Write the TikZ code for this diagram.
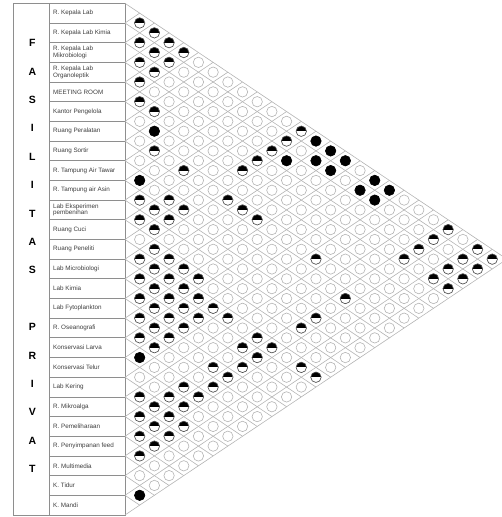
\documentclass[tikz,border=0pt]{standalone}
\usepackage{fontspec}
\setmainfont{Liberation Sans}
\usepackage{tikz}
\definecolor{tablegray}{HTML}{8E8E8E}
\definecolor{latticegray}{HTML}{B4B4B4}
\definecolor{labelgray}{HTML}{3C3C3C}

\begin{document}
\begin{tikzpicture}[
  x=1pt, y=-1pt,
  tableline/.style={tablegray,line width=0.8pt},
  lattice/.style={latticegray,line width=0.6pt},
  roomlabel/.style={anchor=west,inner sep=0pt,align=left,text=labelgray,
    font=\fontsize{6.3}{6.8}\selectfont},
  grouplabel/.style={inner sep=0pt,font=\fontsize{10.5}{10.5}\selectfont\bfseries},
  cellmark/.style={circle,draw=latticegray,line width=0.6pt,fill=white,
    minimum size=10.4pt,inner sep=0pt},
  halfmark/.style={cellmark,draw=black!70,path picture={
    \fill[black] (path picture bounding box.north west) rectangle (path picture bounding box.east);}},
  fullmark/.style={cellmark,draw=black,fill=black}
]
  \def\rowh{19.68}
  \def\hw{14.69}
  \def\hh{9.84}
  \useasboundingbox (0,0) rectangle (502,517);
  \clip (0,0) rectangle (502,517);

  % table of rooms
  \draw[tableline] (13.3,3.3) rectangle (125,515);
  \draw[tableline] (49.3,3.3) -- (49.3,515);
  \foreach \k in {1,...,25}
    \draw[tableline] (49.3,{3.3+\k*\rowh}) -- (125,{3.3+\k*\rowh});

  % diamond lattice
  \foreach \k in {0,...,26} {
    \draw[lattice] (125,{3.3+\k*\rowh}) -- ++({(26-\k)*\hw},{(26-\k)*\hh});
    \draw[lattice] (125,{3.3+\k*\rowh}) -- ++({\k*\hw},{-\k*\hh});
  }

  % vertical group title
  \foreach \ch [count=\k from 0] in {F,A,S,I,L,I,T,A,S}
    \node[grouplabel] (fas\k) at (32.3,{43+\k*28.4}) {\ch};
  \foreach \ch [count=\k from 10] in {P,R,I,V,A,T}
    \node[grouplabel] (pri\k) at (32.3,{43+\k*28.4}) {\ch};

  % room names
  \foreach \n/\txt in {1/{R. Kepala Lab},2/{R. Kepala Lab Kimia},
      3/{R. Kepala Lab\\Mikrobiologi},4/{R. Kepala Lab\\Organoleptik},
      5/{MEETING ROOM},6/{Kantor Pengelola},7/{Ruang Peralatan},
      8/{Ruang Sortir},9/{R. Tampung Air Tawar},10/{R. Tampung air Asin},
      11/{Lab Eksperimen\\pembenihan},12/{Ruang Cuci},13/{Ruang Peneliti},
      14/{Lab Microbiologi},15/{Lab Kimia},16/{Lab Fytoplankton},
      17/{R. Oseanografi},18/{Konservasi Larva},19/{Konservasi Telur},
      20/{Lab Kering},21/{R. Mikroalga},22/{R. Pemeliharaan},
      23/{R. Penyimpanan feed},24/{R. Multimedia},25/{K. Tidur},26/{K. Mandi}}
    \node[roomlabel] (room\n) at (53,{3.3+(\n-0.5)*\rowh}) {\txt};

  % one empty circle per pair of rooms
  \foreach \i in {1,...,25} {
    \pgfmathtruncatemacro\jstart{\i+1}
    \foreach \j in {\jstart,...,26}
      \node[cellmark] (c\i-\j) at ({125+(\j-\i)*\hw},{3.3+(\i+\j-1)*\hh}) {};
  }

  % half filled: linked
  \foreach \i/\j in {1/2,1/3,2/3,1/4,2/4,1/5,3/4,2/5,3/5,4/5,5/6,5/7,
      7/9,7/11,5/13,10/11,9/12,7/14,10/12,9/13,7/15,11/12,10/13,7/16,11/13,12/14,
      13/14,12/15,13/15,12/16,14/15,13/16,12/17,14/16,13/17,15/16,14/17,13/18,
      15/17,14/18,13/19,16/17,15/18,14/19,13/20,16/18,15/19,17/18,16/19,13/22,
      17/19,14/22,14/23,16/22,15/23,16/23,18/22,17/23,20/21,19/22,18/23,20/22,
      19/23,21/22,20/23,21/23,20/24,22/23,21/24,22/24,23/24,
      1/13,2/13,3/13,4/13,1/23,2/23,3/23,1/25,7/20,4/23,2/25,1/26,3/25,2/26,
      4/25,3/26,4/26,8/23,10/23,11/23,13/23,13/25,13/26}
    \node[halfmark] (h\i-\j) at (c\i-\j) {};

  % fully filled: directly joined
  \foreach \i/\j in {6/8,9/10,18/19,25/26,1/14,1/15,3/14,2/15,1/16,2/16,
      1/18,2/18,1/19,2/19}
    \node[fullmark] (f\i-\j) at (c\i-\j) {};
\end{tikzpicture}
\end{document}
